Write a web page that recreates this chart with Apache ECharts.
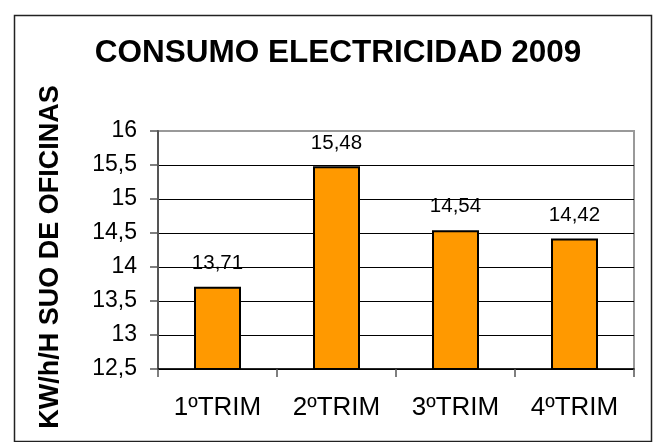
<!DOCTYPE html>
<html>
<head>
<meta charset="utf-8">
<script src="https://cdn.jsdelivr.net/npm/echarts@6/dist/echarts.min.js"></script>
<style>
html,body{margin:0;padding:0;background:#fff;}
#c{width:654px;height:442px;}
</style>
</head>
<body>
<div id="c"></div>
<script>
const titleText = 'CONSUMO ELECTRICIDAD 2009';
const yAxisTitle = 'KW/h/H SUO DE OFICINAS';
const categories = ['1ºTRIM', '2ºTRIM', '3ºTRIM', '4ºTRIM'];
const values = [13.71, 15.48, 14.54, 14.42];
const yMin = 12.5, yMax = 16, yStep = 0.5;

const FONT = '"Liberation Sans", Arial, sans-serif';
const chart = echarts.init(document.getElementById('c'), null, {renderer: 'canvas'});
const splitColors = ['#000','#000','#000','#000','#000','#000','#000','#999'];
chart.setOption({
  backgroundColor: '#fff',
  animation: false,
  title: {
    text: titleText,
    left: 333, top: 32, textAlign: 'center',
    textStyle: {fontFamily: FONT, fontWeight: 'bold', fontSize: 31.5, color: '#000'}
  },
  graphic: [
    {type: 'rect', shape: {x: 14.5, y: 15.5, width: 637, height: 426}, style: {fill: 'none', stroke: '#222', lineWidth: 1.5}, z: 100},
    {type: 'text', x: 51, y: 257, rotation: Math.PI / 2,
     style: {text: yAxisTitle, fontFamily: FONT, fontWeight: 'bold', fontSize: 27, fill: '#000', align: 'center', verticalAlign: 'middle'}}
  ],
  grid: {left: 158, right: 20, top: 131, bottom: 73, show: true, borderColor: '#999', borderWidth: 2, backgroundColor: '#fff'},
  xAxis: {
    type: 'category', data: categories,
    axisLine: {lineStyle: {color: '#000', width: 1.5}},
    axisTick: {show: true, inside: false, length: 8, lineStyle: {color: '#555', width: 1.5}},
    axisLabel: {margin: 26, fontFamily: FONT, fontSize: 26, color: '#000'}
  },
  yAxis: {
    type: 'value', min: yMin, max: yMax, interval: yStep,
    axisLine: {show: true, lineStyle: {color: '#555', width: 2}},
    axisTick: {show: true, inside: false, length: 8, lineStyle: {color: '#555', width: 1.5}},
    axisLabel: {margin: 21, fontFamily: FONT, fontSize: 23, color: '#000',
      formatter: v => String(v).replace('.', ',')},
    splitLine: {show: true, lineStyle: {color: splitColors, width: 1}}
  },
  series: [{
    type: 'bar', data: values, barWidth: 47,
    itemStyle: {color: '#FF9900', borderColor: '#000', borderWidth: 2},
    label: {show: true, position: 'top', distance: 13, fontFamily: FONT, fontSize: 20.5, color: '#000',
      formatter: p => p.value.toFixed(2).replace('.', ',')}
  }]
});
</script>
</body>
</html>
